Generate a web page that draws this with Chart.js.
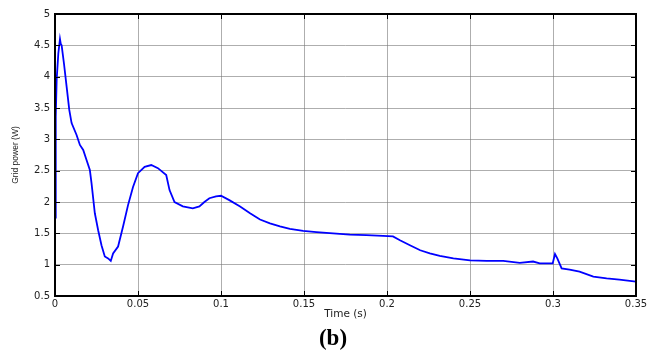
<!DOCTYPE html>
<html>
<head>
<meta charset="utf-8">
<script src="https://cdn.jsdelivr.net/npm/chart.js@4"></script>
<style>
  html, body { margin: 0; padding: 0; background: #fff; }
  #wrap { position: relative; width: 661px; height: 354px; }
  #panel {
    position: absolute; left: 303px; width: 60px; top: 325px;
    text-align: center; font: bold 23px "Liberation Serif", "Times New Roman", serif;
    line-height: 26px; color: #000;
  }
</style>
</head>
<body>
<div id="wrap">
  <canvas id="c" width="661" height="354"></canvas>
  <div id="panel">(b)</div>
</div>
<script>
// Time axis (s) and grid power (W)
const timeS = [0, 0.0003, 0.0006, 0.001, 0.002, 0.003, 0.0035, 0.004, 0.0054, 0.007, 0.0086, 0.010,
  0.013, 0.015, 0.017, 0.019, 0.021, 0.022, 0.024, 0.026, 0.028, 0.030, 0.032, 0.0336, 0.035, 0.038,
  0.041, 0.044, 0.047, 0.050, 0.054, 0.058, 0.062, 0.067, 0.069, 0.072, 0.077, 0.083, 0.087, 0.090,
  0.093, 0.097, 0.100, 0.105, 0.1115, 0.1175, 0.1235, 0.1295, 0.1355, 0.1415, 0.1495, 0.1575, 0.1675,
  0.1776, 0.1876, 0.1976, 0.2036, 0.2078, 0.2138, 0.22, 0.2258, 0.2318, 0.24, 0.25, 0.26, 0.27, 0.28,
  0.288, 0.292, 0.2998, 0.3012, 0.3026, 0.3052, 0.310, 0.316, 0.3243, 0.3323, 0.340, 0.35];
const gridPowerW = [1.75, 2.67, 3.36, 3.95, 4.37, 4.6, 4.52, 4.5, 4.21, 3.84, 3.47, 3.26,
  3.07, 2.91, 2.83, 2.67, 2.51, 2.30, 1.82, 1.55, 1.31, 1.13, 1.10, 1.06, 1.18, 1.29,
  1.61, 1.95, 2.24, 2.46, 2.56, 2.59, 2.54, 2.43, 2.19, 2.00, 1.93, 1.90, 1.93, 2.00,
  2.06, 2.09, 2.10, 2.03, 1.93, 1.82, 1.72, 1.66, 1.61, 1.57, 1.54, 1.52, 1.50,
  1.48, 1.47, 1.46, 1.45, 1.39, 1.31, 1.23, 1.18, 1.14, 1.10, 1.07, 1.06, 1.06, 1.03,
  1.05, 1.02, 1.02, 1.17, 1.10, 0.94, 0.92, 0.89, 0.81, 0.78, 0.76, 0.73];

const xTicks = [0, 0.05, 0.1, 0.15, 0.2, 0.25, 0.3, 0.35];
const xTickLabels = ['0', '0.05', '0.1', '0.15', '0.2', '0.25', '0.3', '0.35'];
const yTicks = [0.5, 1, 1.5, 2, 2.5, 3, 3.5, 4, 4.5, 5];
const yTickLabels = ['0.5', '1', '1.5', '2', '2.5', '3', '3.5', '4', '4.5', '5'];

const TICK_FONT = '"DejaVu Sans", Verdana, sans-serif';
const LABEL_FONT = '"Liberation Sans", Arial, sans-serif';

/**
 * MATLAB-like frame: black box plus inward tick marks on all sides
 */
const framePlugin = {
  id: 'frame',
  afterDraw(chart) {
    const { ctx, chartArea: a, scales } = chart;
    ctx.save();
    ctx.strokeStyle = '#000';
    ctx.lineWidth = 1;
    ctx.beginPath();
    scales.x.ticks.forEach((t) => {
      const x = Math.round(scales.x.getPixelForValue(t.value)) + 0.5;
      ctx.moveTo(x, a.bottom); ctx.lineTo(x, a.bottom - 5);
      ctx.moveTo(x, a.top); ctx.lineTo(x, a.top + 5);
    });
    scales.y.ticks.forEach((t) => {
      const y = Math.round(scales.y.getPixelForValue(t.value)) + 0.5;
      ctx.moveTo(a.left, y); ctx.lineTo(a.left + 5, y);
      ctx.moveTo(a.right, y); ctx.lineTo(a.right - 5, y);
    });
    ctx.stroke();
    ctx.lineWidth = 2;
    ctx.strokeRect(a.left, a.top, a.right - a.left, a.bottom - a.top);
    ctx.restore();
  },
};

new Chart(document.getElementById('c'), {
  type: 'line',
  data: {
    datasets: [{
      data: timeS.map((t, i) => ({ x: t, y: gridPowerW[i] })),
      borderColor: '#0000ff',
      borderWidth: 1.8,
      pointRadius: 0,
      tension: 0,
      fill: false,
    }],
  },
  options: {
    responsive: false,
    animation: false,
    layout: { padding: { top: 14, right: 25, left: 0, bottom: 28 } },
    plugins: {
      legend: { display: false },
      tooltip: { enabled: false },
    },
    scales: {
      x: {
        type: 'linear',
        min: 0,
        max: 0.35,
        afterBuildTicks: (s) => { s.ticks = xTicks.map((v) => ({ value: v })); },
        afterFit: (s) => { s.height = 30; },
        ticks: {
          color: '#222',
          font: { family: TICK_FONT, size: 10 },
          padding: 2,
          maxRotation: 0,
          callback: (v) => xTickLabels[xTicks.indexOf(v)] ?? '',
        },
        grid: { color: 'rgba(120,120,120,0.6)', lineWidth: 1, drawTicks: false },
        border: { display: false },
        title: {
          display: true,
          text: 'Time (s)',
          color: '#222',
          font: { family: TICK_FONT, size: 10.5, lineHeight: 1.2 },
          padding: { top: 0, bottom: 5 },
        },
      },
      y: {
        type: 'linear',
        min: 0.5,
        max: 5,
        afterBuildTicks: (s) => { s.ticks = yTicks.map((v) => ({ value: v })); },
        afterFit: (s) => { s.width = 55; },
        ticks: {
          color: '#222',
          font: { family: TICK_FONT, size: 10 },
          padding: 5,
          callback: (v) => yTickLabels[yTicks.indexOf(v)] ?? '',
        },
        grid: { color: 'rgba(120,120,120,0.6)', lineWidth: 1, drawTicks: false },
        border: { display: false },
        title: {
          display: true,
          text: 'Grid power (W)',
          color: '#222',
          font: { family: LABEL_FONT, size: 8.5, lineHeight: 1.2 },
          padding: { top: 11, bottom: 0 },
        },
      },
    },
  },
  plugins: [framePlugin],
});
</script>
</body>
</html>
